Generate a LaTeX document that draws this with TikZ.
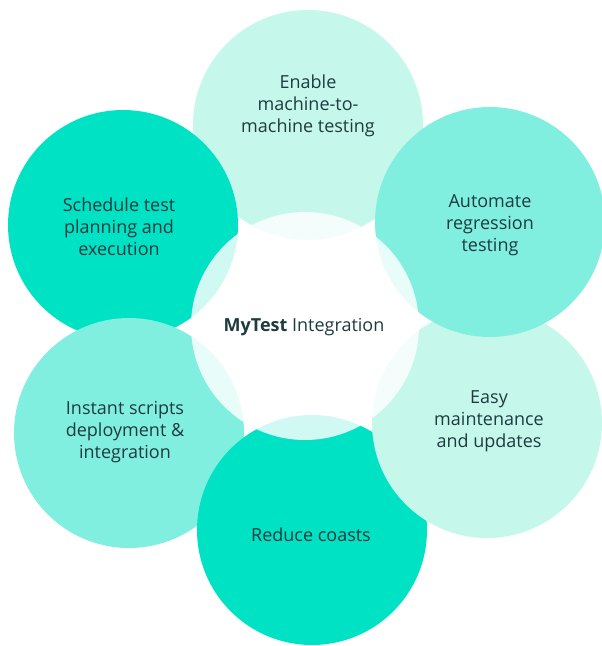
\documentclass[tikz,border=0pt]{standalone}
\usepackage{fontspec}
\setmainfont{Open Sans}
\definecolor{cdark}{HTML}{00E2C4}
\definecolor{cmid}{HTML}{80EFE0}
\definecolor{clight}{HTML}{C5F8EB}
\definecolor{ctext}{HTML}{1E3B3F}
\tikzset{
  bubble/.style={circle, minimum size=230pt, inner sep=0pt, draw=none},
  label/.style={text=ctext, align=center, font=\fontsize{18}{22}\selectfont},
}
\begin{document}
\begin{tikzpicture}[x=1pt, y=-1pt]
\useasboundingbox (0,0) rectangle (602,646);
\fill[white] (0,0) rectangle (602,646);
\node[bubble, fill=clight] (enable) at (308,125) {};
\node[bubble, fill=cdark] (schedule) at (123,225) {};
\node[bubble, fill=cmid] (instant) at (129,433) {};
\node[bubble, fill=cdark] (reduce) at (312,530) {};
\node[bubble, fill=clight] (easy) at (487,423) {};
\node[bubble, fill=cmid] (automate) at (490,222) {};
\node[bubble, minimum size=228pt, fill=white, fill opacity=0.82] (center) at (305,326) {};
\node[label] (tenable) at (308,106) {Enable\\machine-to-\\machine testing};
\node[label] (tschedule) at (119,227) {Schedule test\\planning and\\execution};
\node[label] (tautomate) at (490,225) {Automate\\regression\\testing};
\node[label] (teasy) at (489,421) {Easy\\maintenance\\and updates};
\node[label] (treduce) at (311,535) {Reduce coasts};
\node[label] (tinstant) at (125,432) {Instant scripts\\deployment \&\\integration};
\node[label] (tcenter) at (304,327) {\textbf{MyTest} Integration};
\end{tikzpicture}
\end{document}
